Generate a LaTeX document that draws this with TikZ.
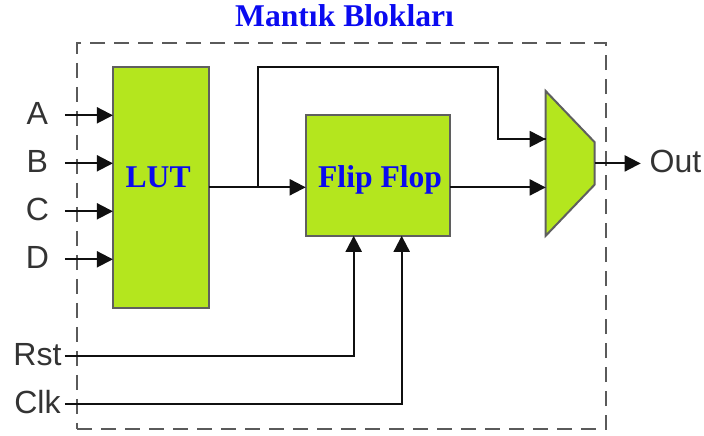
\documentclass[tikz,border=0pt]{standalone}
\usepackage{fontspec}
\setmainfont{Liberation Sans}
\newfontfamily\serifbold[BoldFont={Liberation Serif Bold}]{Liberation Serif}
\usetikzlibrary{positioning, arrows.meta, shapes.geometric}
\definecolor{colBlock}{HTML}{B4E61E}
\definecolor{colBlockEdge}{HTML}{5F5F5F}
\definecolor{colFrame}{HTML}{5A5A5A}
\definecolor{colWire}{HTML}{101010}
\definecolor{colLabel}{HTML}{333333}
\definecolor{colTitle}{HTML}{0A0AF0}

\begin{document}
\begin{tikzpicture}[
    >={Triangle[length=4mm,width=4mm]},
    frame/.style={draw=colFrame, line width=0.5mm, dash pattern=on 3.75mm off 2.25mm,
                  minimum width=132.25mm, minimum height=96.5mm, inner sep=0pt},
    block/.style={draw=colBlockEdge, fill=colBlock, line width=0.5mm, inner sep=0pt, outer sep=0pt},
    mux/.style={block, trapezium, trapezium stretches=true, trapezium angle=45,
                shape border rotate=270, minimum width=36.25mm, minimum height=12.25mm},
    arr/.style={->, line width=0.5mm, draw=colWire},
    wire/.style={line width=0.5mm, draw=colWire},
    blocktext/.style={font=\serifbold\fontsize{22.5pt}{24pt}\selectfont\bfseries, text=colTitle, inner sep=0pt},
    signal/.style={font=\fontsize{22.8pt}{24pt}\selectfont, text=colLabel, inner sep=0pt, outer sep=0pt,
                   text depth=1mm, minimum width=13.75mm},
]
\useasboundingbox (0,0) rectangle (176mm,108.75mm);

% ---- Outer frame and title --------------------------------------------------
\node[frame] (frame) at (85.4mm,49.75mm) {};
\node[blocktext, anchor=base] (title) at ([xshift=0.75mm,yshift=3.75mm]frame.north) {Mantık Blokları};

% ---- Blocks -----------------------------------------------------------------
\node[block, anchor=north west, minimum width=24.1mm, minimum height=60.25mm]
    (lut) at ([xshift=9.2mm,yshift=-6.2mm]frame.north west) {};
\node[block, below right=12mm and 24.1mm of lut.north east, minimum width=36mm, minimum height=30.25mm] (ff) {};
\node[mux, right=24mm of ff.south east, anchor=bottom right corner] (mux) {\phantom{M}};

\node[blocktext] (lutlbl) at ([xshift=-0.75mm,yshift=2.4mm]lut) {LUT};
\node[blocktext] (fflbl) at ([xshift=0.6mm,yshift=-1.1mm]ff) {Flip Flop};

% ---- Signal names -----------------------------------------------------------
\node[signal, left=12mm of lut.west, anchor=east, yshift=18mm] (sigA) {A};
\node[signal, below=12mm of sigA.center, anchor=center] (sigB) {B};
\node[signal, below=12mm of sigB.center, anchor=center] (sigC) {C};
\node[signal, below=12mm of sigC.center, anchor=center] (sigD) {D};
\node[signal, below=24.25mm of sigD.center, anchor=center] (sigRst) {Rst};
\node[signal, below=12mm of sigRst.center, anchor=center] (sigClk) {Clk};
\node[signal, right=11.5mm of mux.top side, anchor=west, minimum width=0pt, inner xsep=2.25mm] (sigOut) {Out};

% ---- Helper points ----------------------------------------------------------
\coordinate (tap) at ([xshift=12.1mm]lut.east);
\coordinate (muxin1) at ([yshift=6.1mm]mux.bottom side);
\coordinate (muxin2) at ([yshift=-6mm]mux.bottom side);
\coordinate (turn) at ([xshift=-12mm]muxin1);

% ---- Arrows -----------------------------------------------------------------
\draw[arr] (sigA.east) -- (sigA -| lut.west);
\draw[arr] (sigB.east) -- (sigB -| lut.west);
\draw[arr] (sigC.east) -- (sigC -| lut.west);
\draw[arr] (sigD.east) -- (sigD -| lut.west);
\draw[arr] (lut.east) -- (lut.east -| ff.west);
\draw[wire] (tap) -- (tap |- lut.north) -| (turn) -- (muxin1);
\draw[arr] (turn) -- (muxin1);
\draw[arr] (muxin2 -| ff.east) -- (muxin2);
\draw[arr] (sigRst.east) -| ([xshift=-6mm]ff.south);
\draw[arr] (sigClk.east) -| ([xshift=6mm]ff.south);
\draw[arr] (mux.top side) -- (sigOut.west);

\end{tikzpicture}
\end{document}
